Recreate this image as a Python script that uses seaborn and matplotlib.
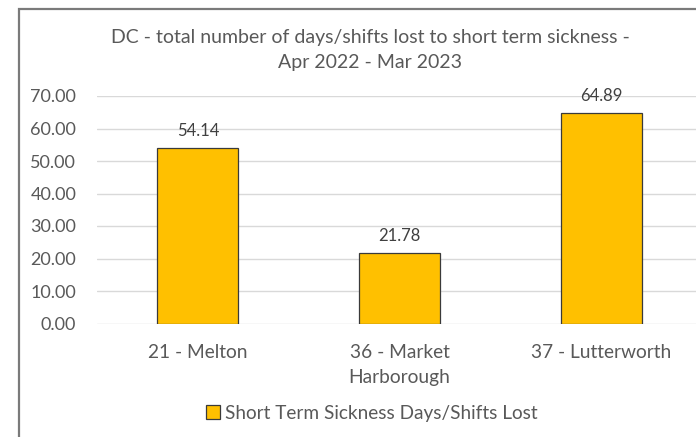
import matplotlib
matplotlib.use("Agg")
import matplotlib.pyplot as plt
import seaborn as sns
import pandas as pd
from matplotlib.patches import Rectangle

categories = ["21 - Melton", "36 - Market\nHarborough", "37 - Lutterworth"]
values = [54.14, 21.78, 64.89]
series_name = "Short Term Sickness Days/Shifts Lost"
title = "DC - total number of days/shifts lost to short term sickness -\nApr 2022 - Mar 2023"
yticks = [0, 10, 20, 30, 40, 50, 60, 70]

sns.set_theme(style="white")
FONT = ["Lato", "DejaVu Sans"]
plt.rcParams["font.family"] = FONT
TXT = "#595959"

W, H = 696, 437
fig = plt.figure(figsize=(W / 100, H / 100), dpi=100)
fig.patch.set_facecolor("white")

# chart border (partially cropped)
fig.patches.append(Rectangle((19 / W, -0.1), 1.2, (H - 9) / H + 0.1,
                             transform=fig.transFigure, fill=False,
                             edgecolor="#7a7a7a", linewidth=1.6, zorder=0))

left, right = 97, 702
bottom, top = 437 - 323.5, 437 - 96
ax = fig.add_axes([left / W, bottom / H, (right - left) / W, (top - bottom) / H])

df = pd.DataFrame({"cat": categories, "val": values})
sns.barplot(data=df, x="cat", y="val", ax=ax, color="#FFC000",
            edgecolor="#3a3a3a", linewidth=0.9, width=0.4, saturation=1)

ax.set_ylim(0, 70)
ax.set_yticks(yticks)
ax.set_yticklabels([f"{v:.2f}" for v in yticks], fontsize=13, color=TXT)
ax.tick_params(axis="x", labelsize=13.8, labelcolor=TXT, pad=15, length=0)
ax.tick_params(axis="y", pad=15, length=0)
for lbl in ax.get_xticklabels():
    lbl.set_linespacing(1.55)
ax.set_xlabel("")
ax.set_ylabel("")
ax.grid(axis="y", color="#d9d9d9", linewidth=1)
ax.set_axisbelow(True)
for s in ax.spines.values():
    s.set_visible(False)
ax.set_xlim(-0.5, 2.5)

for c in ax.containers:
    ax.bar_label(c, labels=[f"{v:.2f}" for v in values], padding=6,
                 fontsize=12, color="#404040")

fig.text(370 / W, 1 - 50 / H, title, ha="center", va="center",
         fontsize=14, color=TXT, linespacing=1.55)

handle = Rectangle((0, 0), 1, 1, facecolor="#FFC000", edgecolor="#3a3a3a", linewidth=0.9)
fig.legend([handle], [series_name], loc="center", bbox_to_anchor=(372 / W, 1 - 413 / H),
           frameon=False, fontsize=13.7, labelcolor=TXT, handlelength=0.75,
           handleheight=0.75, handletextpad=0.25)

fig.savefig("out.png", dpi=100)
